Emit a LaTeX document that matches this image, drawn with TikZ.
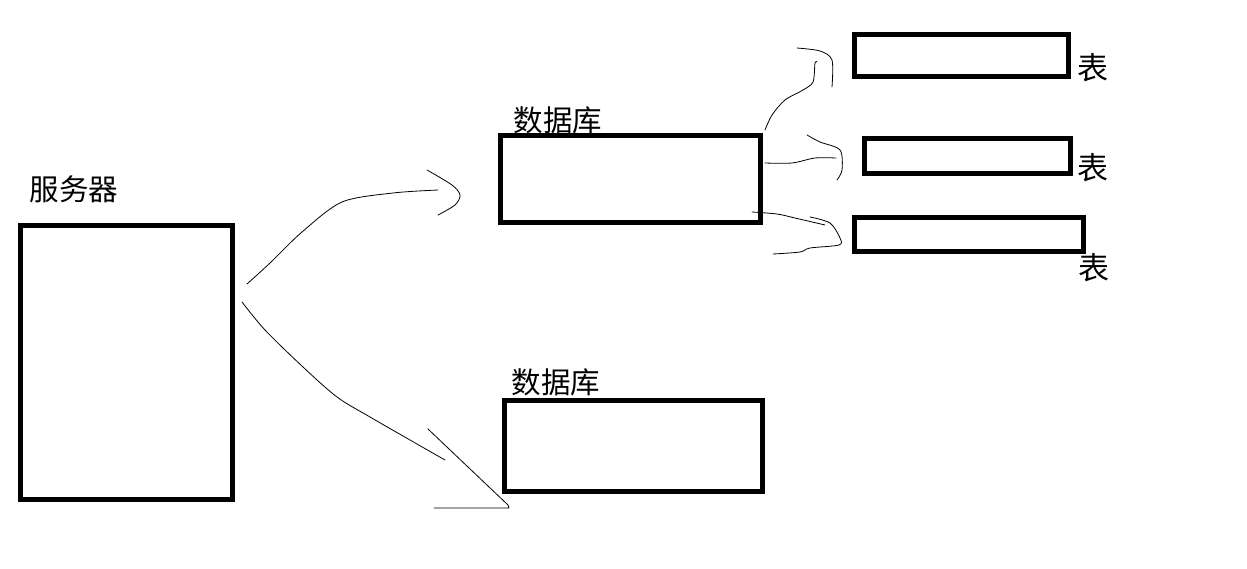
\documentclass[tikz,border=0pt]{standalone}
\usepackage{fontspec}
\newfontfamily\cjk{Noto Sans CJK SC}
\begin{document}
\begin{tikzpicture}[x=1pt,y=-1pt,
  box/.style={draw=black,line width=5pt,inner sep=0pt,outer sep=0pt},
  lbl/.style={font=\cjk\fontsize{29.5}{30}\selectfont,inner sep=0pt},
  tlbl/.style={font=\cjk\fontsize{31}{31}\selectfont,inner sep=0pt},
  sketch/.style={line width=0.8pt,line cap=round,line join=round}]
\useasboundingbox[fill=white] (0,0) rectangle (1247,568);
% boxes
\node[box,minimum width=212pt,minimum height=274pt] (server) at (126.5,362.5) {};
\node[box,minimum width=260pt,minimum height=87pt] (db1) at (630.5,179) {};
\node[box,minimum width=258pt,minimum height=91pt] (db2) at (633.5,446) {};
\node[box,minimum width=214pt,minimum height=42pt] (t1) at (961.5,55.5) {};
\node[box,minimum width=206pt,minimum height=35pt] (t2) at (967.5,156) {};
\node[box,minimum width=229pt,minimum height=34pt] (t3) at (969,234.5) {};
% labels
\node[lbl] (lserver) at (74,189) {服务器};
\node[lbl] (ldb1) at (558,120) {数据库};
\node[lbl] (ldb2) at (556,382) {数据库};
\node[tlbl] (lt1) at (1093,68) {表};
\node[tlbl] (lt2) at (1093,168) {表};
\node[tlbl] (lt3) at (1094,268) {表};
% sketched connectors
\coordinate (s1) at (247,284);
\coordinate (s2) at (242,302);
\draw[sketch] plot[smooth,tension=0.5] coordinates {(s1) (270,263) (302,232) (342,202) (393,193) (438,190)};
\draw[sketch] plot[smooth,tension=0.5] coordinates {(427,170) (452,185) (460,195) (455,205) (438,215)};
\draw[sketch] plot[smooth,tension=0.5] coordinates {(s2) (265,330) (303,367) (337,397) (370,417) (445,460)};
\draw[sketch] (428,429) -- (508,505) -- (509,508) -- (434,508);
% db1 to tables
\coordinate (d1) at (765,130);
\coordinate (d2) at (765,163);
\coordinate (d3) at (752,212);
\draw[sketch] plot[smooth,tension=0.5] coordinates {(d1) (772,115) (785,100) (803,90) (813,82) (815,63) (817,62)};
\draw[sketch] plot[smooth,tension=0.5] coordinates {(797,48) (820,51) (832,60) (832,87)};
\draw[sketch] plot[smooth,tension=0.5] coordinates {(d2) (792,163) (815,158) (836,158)};
\draw[sketch] plot[smooth,tension=0.5] coordinates {(807,135) (820,142) (840,150) (842,170) (837,180)};
\draw[sketch] plot[smooth,tension=0.5] coordinates {(d3) (777,214) (795,218) (825,225)};
\draw[sketch] plot[smooth,tension=0.5] coordinates {(810,217) (830,223) (840,238) (839,245) (810,248) (800,252) (773,254)};
\end{tikzpicture}
\end{document}
